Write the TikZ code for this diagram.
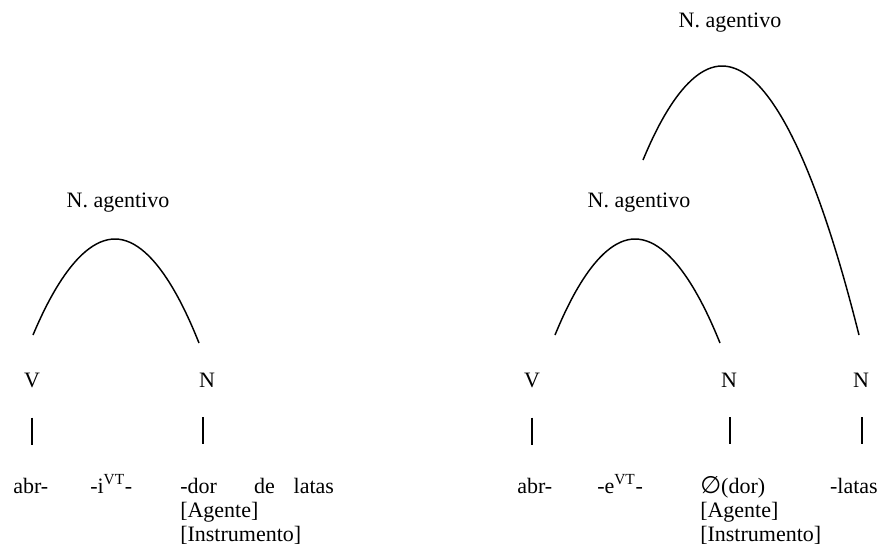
\documentclass[tikz,border=0pt]{standalone}
\usepackage{fontspec}
\setmainfont{Liberation Serif}
\newfontfamily\symfnt{DejaVu Sans}
\begin{document}
\begin{tikzpicture}[x=0.75pt,y=-0.75pt,
  lbl/.style={inner sep=0pt,font=\fontsize{16.5}{20}\selectfont},
  arcline/.style={line width=1.1pt},
  stem/.style={line width=1.1pt}]
\useasboundingbox (0,0) rectangle (883,551);

% category labels
\node[lbl,anchor=base] (agL) at (118,207) {N. agentivo};
\node[lbl,anchor=base] (agR1) at (639,207) {N. agentivo};
\node[lbl,anchor=base] (agR2) at (730,27) {N. agentivo};
\node[lbl,anchor=base] (vL) at (32,387) {V};
\node[lbl,anchor=base] (nL) at (207,387) {N};
\node[lbl,anchor=base] (vR) at (532,387) {V};
\node[lbl,anchor=base] (nR1) at (729,387) {N};
\node[lbl,anchor=base] (nR2) at (861,387) {N};

% stems
\draw[stem] ([yshift=-22.5pt]vL.south) -- ++(0,27);
\draw[stem] ([xshift=-3pt,yshift=-22.5pt]nL.south) -- ++(0,27);
\draw[stem] ([yshift=-22.5pt]vR.south) -- ++(0,27);
\draw[stem] ([xshift=0.75pt,yshift=-22.5pt]nR1.south) -- ++(0,27);
\draw[stem] ([xshift=0.75pt,yshift=-22.5pt]nR2.south) -- ++(0,27);

% arcs
\coordinate (aLs) at (33,335);
\coordinate (aLb) at (115,239);
\coordinate (aLe) at (199,343);
\draw[arcline] (aLs) parabola bend (aLb) (aLe);

\coordinate (aRs) at (555,335);
\coordinate (aRb) at (635,239);
\coordinate (aRe) at (720,343);
\draw[arcline] (aRs) parabola bend (aRb) (aRe);

\coordinate (bRs) at (643,160);
\coordinate (bRb) at (722,66);
\coordinate (bRe) at (859,335);
\draw[arcline] (bRs) parabola bend (bRb) (bRe);

% bottom texts, left
\node[lbl,anchor=base west] (abrL) at (13,493) {abr-};
\node[lbl,anchor=base west] (vtL) at (90,493) {-i\textsuperscript{VT}-};
\node[lbl,anchor=base west] (dorL) at (180,493) {-dor\hspace{28pt}de\hspace{14pt}latas};
\node[lbl,anchor=base west] (agtL) at (180,517) {[Agente]};
\node[lbl,anchor=base west] (insL) at (180,541) {[Instrumento]};

% bottom texts, right
\node[lbl,anchor=base west] (abrR) at (517,493) {abr-};
\node[lbl,anchor=base west] (vtR) at (597,493) {-e\textsuperscript{VT}-};
\node[lbl,anchor=base west] (dorR) at (700,493) {{\symfnt\fontsize{18}{20}\selectfont ∅}(dor)};
\node[lbl,anchor=base east] (latR) at (878,493) {-latas};
\node[lbl,anchor=base west] (agtR) at (700,517) {[Agente]};
\node[lbl,anchor=base west] (insR) at (700,541) {[Instrumento]};
\end{tikzpicture}
\end{document}
